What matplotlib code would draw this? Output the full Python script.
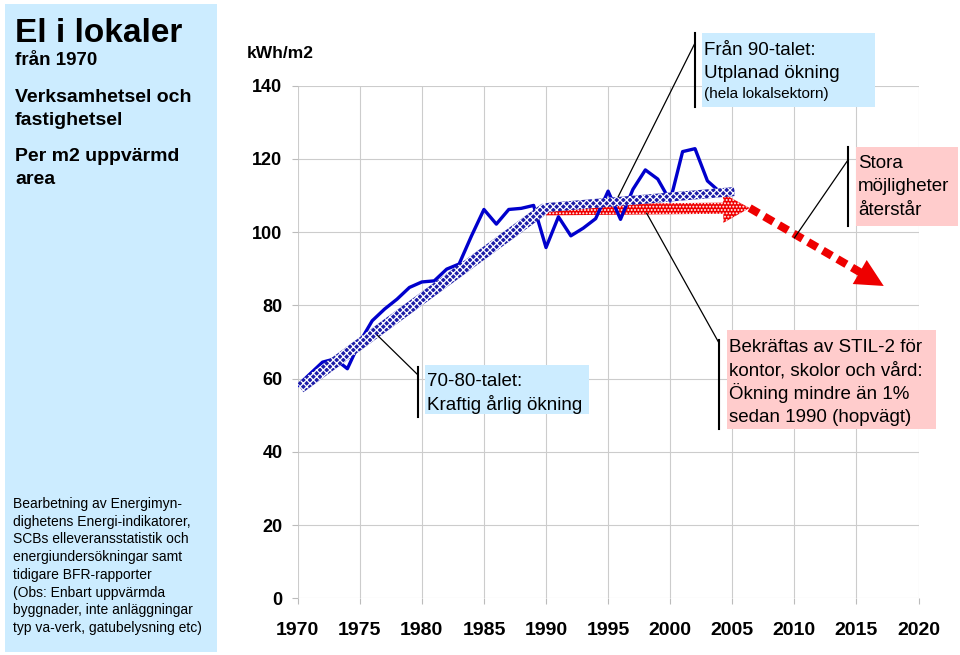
import matplotlib
matplotlib.use("Agg")
import matplotlib.pyplot as plt
from matplotlib.patches import Rectangle, FancyArrowPatch, ArrowStyle
from matplotlib.lines import Line2D

plt.rcParams['font.family'] = ['Liberation Sans', 'DejaVu Sans']
plt.rcParams['hatch.linewidth'] = 0.9

# electricity use in premises, kWh per m2 heated area
years = [1970, 1971, 1972, 1973, 1974, 1975, 1976, 1977, 1978, 1979,
         1980, 1981, 1982, 1983, 1984, 1985, 1986, 1987, 1988, 1989,
         1990, 1991, 1992, 1993, 1994, 1995, 1996, 1997, 1998, 1999,
         2000, 2001, 2002, 2003, 2004]
el_kwh = [58.1, 61.3, 64.5, 65.4, 62.7, 70.0, 75.8, 79.0, 81.7, 84.9,
          86.4, 86.7, 89.9, 91.3, 99.0, 106.2, 102.2, 106.2, 106.5, 107.3,
          95.8, 104.2, 99.0, 101.1, 103.7, 111.2, 103.5, 111.7, 117.0, 114.5,
          108.5, 122.0, 122.8, 114.0, 111.0]

# trend arrows (start, end)
trend_70_80_x = [1970.2, 1990.0]
trend_70_80_y = [57.5, 106.7]
trend_90_x = [1990.0, 2005.2]
trend_90_y = [106.7, 111.1]
stil2_x = [1990.0, 2006.4]
stil2_y = [106.1, 106.6]
potential_x = [2006.4, 2017.2]
potential_y = [106.6, 85.3]

x_ticks = list(range(1970, 2021, 5))
y_ticks = list(range(0, 141, 20))

W, H = 960, 655
LIGHT_BLUE = '#ccecff'
PINK = '#ffcccc'

fig = plt.figure(figsize=(W / 100, H / 100), dpi=100)


def fx(px):
    return px / W


def fy(py):
    return 1 - py / H


ax = fig.add_axes([fx(297.7), fy(598.3), 620.8 / W, 512.6 / H])
ax.set_xlim(1970, 2020)
ax.set_ylim(0, 140)
ax.set_xticks(x_ticks)
ax.set_yticks(y_ticks)
ax.grid(True, color='#cccccc', lw=0.8)
ax.set_axisbelow(True)
for s in ax.spines.values():
    s.set_visible(False)
ax.tick_params(colors='#bbbbbb', length=4, width=0.8, labelcolor='black')
ax.tick_params(axis='x', labelsize=14, pad=13)
ax.tick_params(axis='y', labelsize=13, pad=7)
for lbl in ax.get_xticklabels() + ax.get_yticklabels():
    lbl.set_fontweight('bold')

ax.plot(years, el_kwh, color='#0000cc', lw=2.4, solid_joinstyle='round', zorder=3)


def band(x, y, width, color, hatch, head=None, z=4):
    if head is None:
        style = ArrowStyle.Simple(head_length=0.5, head_width=width, tail_width=width)
    else:
        style = ArrowStyle.Simple(head_length=head[0], head_width=head[1], tail_width=width)
    p = FancyArrowPatch((x[0], y[0]), (x[1], y[1]), arrowstyle=style,
                        mutation_scale=1, facecolor=color, edgecolor='white',
                        lw=0, hatch=hatch, shrinkA=0, shrinkB=0, zorder=z)
    ax.add_patch(p)


band(trend_70_80_x, trend_70_80_y, 8, '#1c1ca8', 'xxxxx', z=5)
band(stil2_x, stil2_y, 8, '#f00000', '.....', head=(19, 21), z=2.5)
band(trend_90_x, trend_90_y, 6.5, '#1c1ca8', 'xxxxx', z=5)

# dashed red continuation with solid head
fr = 0.85
ax.plot([potential_x[0], potential_x[0] + fr * (potential_x[1] - potential_x[0])],
        [potential_y[0], potential_y[0] + fr * (potential_y[1] - potential_y[0])],
        color='#ee0000', lw=5.8, dashes=(1.3, 0.8), solid_capstyle='butt',
        dash_capstyle='butt', zorder=4)
ax.annotate('', xy=(potential_x[1], potential_y[1]),
            xytext=(potential_x[0], potential_y[0]),
            arrowprops=dict(arrowstyle='-|>,head_length=1.0,head_width=0.5',
                            mutation_scale=20, facecolor='#ee0000',
                            edgecolor='#ee0000', lw=0, shrinkA=0, shrinkB=0),
            zorder=4)

# left info panel
fig.add_artist(Rectangle((fx(5), fy(652)), 212 / W, 648 / H, transform=fig.transFigure,
                         facecolor=LIGHT_BLUE, edgecolor='none', zorder=1))


def lines_at(x, y0, pitch, lines, **kw):
    for i, s in enumerate(lines):
        fig.text(fx(x), fy(y0 + i * pitch), s, ha='left', va='baseline', zorder=3, **kw)


lines_at(15, 42, 0, ['El i lokaler'], fontsize=24, fontweight='bold')
lines_at(15, 65, 0, ['från 1970'], fontsize=13.5, fontweight='bold')
lines_at(15, 102, 23, ['Verksamhetsel och', 'fastighetsel'], fontsize=14, fontweight='bold')
lines_at(15, 161, 23, ['Per m2 uppvärmd', 'area'], fontsize=14, fontweight='bold')
lines_at(13, 508, 17.7, ['Bearbetning av Energimyn-',
                         'dighetens Energi-indikatorer,',
                         'SCBs elleveransstatistik och',
                         'energiundersökningar samt',
                         'tidigare BFR-rapporter',
                         '(Obs: Enbart uppvärmda',
                         'byggnader, inte anläggningar',
                         'typ va-verk, gatubelysning etc)'], fontsize=10)

fig.text(fx(280), fy(58), 'kWh/m2', ha='center', va='baseline', fontsize=12.5,
         fontweight='bold')


def callout(box, color, bracket_x, bracket_y, line_from, target):
    x0, y0, x1, y1 = box
    fig.add_artist(Rectangle((fx(x0), fy(y1)), (x1 - x0) / W, (y1 - y0) / H,
                             transform=fig.transFigure, facecolor=color,
                             edgecolor='none', zorder=2))
    fig.add_artist(Line2D([fx(bracket_x)] * 2, [fy(bracket_y[0]), fy(bracket_y[1])],
                          color='black', lw=1.5, zorder=2))
    ax.annotate('', xy=target, xycoords='data',
                xytext=(line_from[0], H - line_from[1]), textcoords='figure pixels',
                arrowprops=dict(arrowstyle='-', color='black', lw=0.9,
                                shrinkA=0, shrinkB=0), zorder=6)


callout((702, 33, 875, 107), LIGHT_BLUE, 695, (33, 107), (695, 43), (1995.8, 109.6))
lines_at(704, 55, 23, ['Från 90-talet:', 'Utplanad ökning'], fontsize=13.5)
lines_at(704, 98, 0, ['(hela lokalsektorn)'], fontsize=11)

callout((856, 147, 958, 226), PINK, 848, (147, 226), (848, 160), (2010.0, 98.4))
lines_at(858, 168, 23.5, ['Stora', 'möjligheter', 'återstår'], fontsize=13.5)

callout((425, 365, 589, 414), LIGHT_BLUE, 418, (367, 417), (418, 375), (1976.4, 71.9))
lines_at(427, 386, 23.5, ['70-80-talet:', 'Kraftig årlig ökning'], fontsize=13.5)

callout((727, 330, 936, 429), PINK, 719, (340, 429), (719, 343), (1998.1, 105.2))
lines_at(729, 352, 23.5, ['Bekräftas av STIL-2 för', 'kontor, skolor och vård:',
                          'Ökning mindre än 1%', 'sedan 1990 (hopvägt)'], fontsize=13.5)

fig.savefig('out.png', dpi=100)
